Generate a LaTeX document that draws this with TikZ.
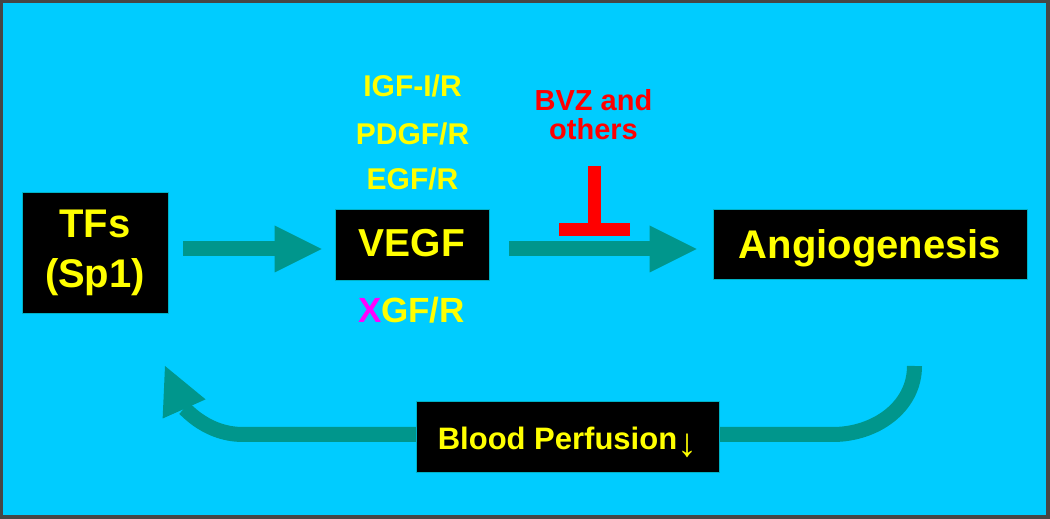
\documentclass[tikz,border=0pt]{standalone}
\usepackage{fontspec}
\setmainfont{Liberation Sans}
\usetikzlibrary{arrows.meta}
\definecolor{bgcyan}{RGB}{0,204,255}
\definecolor{flowteal}{RGB}{0,150,140}
\definecolor{txtyellow}{RGB}{255,255,0}
\definecolor{framegray}{RGB}{70,70,70}
\definecolor{xmag}{RGB}{255,0,255}
\definecolor{inhred}{RGB}{255,0,0}
\begin{document}
\begin{tikzpicture}[x=1pt,y=1pt,
  blackbox/.style={fill=black, draw=flowteal!50!bgcyan, line width=0.8pt, text=txtyellow,
    inner sep=0pt, align=center},
  flow/.style={draw=flowteal, line width=15pt,
    -{Triangle[length=47pt,width=47pt,line width=0pt]}},
  gflabel/.style={text=txtyellow, font=\bfseries\fontsize{30}{36}\selectfont, anchor=base, inner sep=0pt},
  inhib/.style={draw=inhred, line width=13pt}
]
% page and frame
\useasboundingbox (0,0) rectangle (1050,519);
\fill[framegray] (0,0) rectangle (1050,519);
\fill[bgcyan] (3,4) rectangle (1046,516);

% main boxes
\node[blackbox, minimum width=146pt, minimum height=121pt,
  font=\bfseries\fontsize{40}{50}\selectfont] (tfs) at (95,266) {TFs\\(Sp1)};
\node[blackbox, minimum width=154pt, minimum height=71pt, text height=25pt, text depth=0pt,
  font=\bfseries\fontsize{39}{46}\selectfont] (vegf) at (412,274.5) {VEGF};
\node[blackbox, minimum width=314pt, minimum height=70pt, text height=30pt, text depth=0pt,
  font=\bfseries\fontsize{40}{46}\selectfont] (angio) at (870,275) {Angiogenesis};

% growth-factor labels
\node[gflabel] (igf) at (412.5,422) {IGF-I/R};
\node[gflabel] (pdgf) at (412.5,374) {PDGF/R};
\node[gflabel] (egf) at (412.5,329) {EGF/R};
\node[gflabel, font=\bfseries\fontsize{35}{40}\selectfont] (xgf) at (411.5,196) {\textcolor{xmag}{X}GF/R};

% inhibitor label and symbol
\node[text=inhred, font=\bfseries\fontsize{29}{29}\selectfont, align=center, inner sep=0pt]
  (bvz) at (593.5,404) {BVZ and\\others};
\coordinate (inhtop) at (594.5,353);
\coordinate (inhbar) at (594.5,289.5);
\draw[inhib] (inhtop) -- (inhbar);
\draw[inhib] ([xshift=-35.5pt]inhbar) -- ([xshift=35.5pt]inhbar);

% forward arrows
\draw[flow, shorten <=15pt, shorten >=13pt] (tfs.east |- 0,270) -- (vegf.west |- 0,270);
\draw[flow, shorten <=20pt, shorten >=16pt] (vegf.east |- 0,270) -- (angio.west |- 0,270);

% feedback arrow
\coordinate (fbstart) at (914.5,153);
\coordinate (fbend) at (165,153);
\draw[flow] (fbstart) to[out=-90,in=0] (833,84.5) -- (243,84.5) to[out=180,in=-66] (fbend);

\node[blackbox, minimum width=303pt, minimum height=71pt, text height=27pt, text depth=0pt,
  font=\bfseries\fontsize{31}{36}\selectfont] (bperf) at (567.5,82.5)
  {Blood Perfusion\raisebox{-7pt}{\mdseries\fontsize{40}{40}\selectfont ↓}};
\end{tikzpicture}
\end{document}
